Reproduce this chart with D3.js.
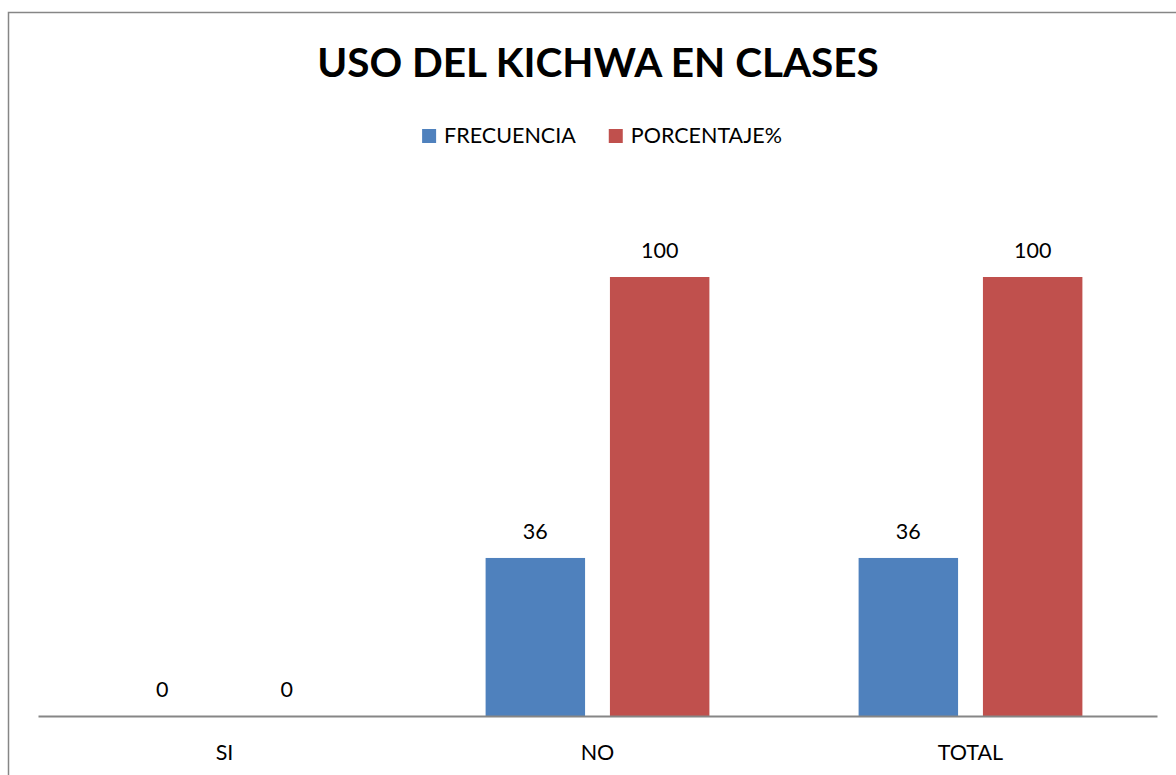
<html>
<head>
<meta charset="utf-8">
<script src="https://d3js.org/d3.v7.min.js"></script>
<style>
body { margin: 0; background: #fff; }
text { font-family: Lato, "Open Sans", sans-serif; fill: #000; }
</style>
</head>
<body>
<div id="chart"></div>
<script>
// chart data
var categories = ["SI", "NO", "TOTAL"];
var seriesNames = ["FRECUENCIA", "PORCENTAJE%"];
var frecuencia = [0, 36, 36];
var porcentaje = [0, 100, 100];
var colors = ["#4F81BD", "#C0504D"];
var title = "USO DEL KICHWA EN CLASES";

var W = 1176, H = 775;
var svg = d3.select("#chart").append("svg")
	.attr("width", W)
	.attr("height", H);

// outer frame (runs off the right and bottom edge)
svg.append("rect")
	.attr("x", 8.5).attr("y", 12.5)
	.attr("width", 1200).attr("height", 800)
	.style("fill", "#fff")
	.style("stroke", "#868686")
	.style("stroke-width", 1.5);

var base = 716;
var x0 = d3.scaleBand().domain(categories).range([38, 1157]);
var bw = x0.bandwidth();
var x1 = d3.scaleBand().domain(seriesNames).range([bw * 0.2, bw * 0.8]).paddingInner(0.2);
var y = d3.scaleLinear().domain([0, 100]).range([base, 277]);

var rows = categories.map(function(c, i) {
	return { cat: c, vals: [frecuencia[i], porcentaje[i]] };
});

var groups = svg.selectAll(".grp")
	.data(rows)
	.enter().append("g")
	.attr("class", "grp")
	.attr("transform", function(d) { return "translate(" + x0(d.cat) + ",0)"; });

var cells = function(d) {
	return d.vals.map(function(v, j) { return { name: seriesNames[j], v: v, j: j }; });
};

groups.selectAll("rect")
	.data(cells)
	.enter().append("rect")
	.attr("x", function(d) { return x1(d.name); })
	.attr("y", function(d) { return y(d.v); })
	.attr("width", x1.bandwidth())
	.attr("height", function(d) { return base - y(d.v); })
	.style("fill", function(d) { return colors[d.j]; });

groups.selectAll(".lbl")
	.data(cells)
	.enter().append("text")
	.attr("class", "lbl")
	.attr("x", function(d) { return x1(d.name) + x1.bandwidth() / 2; })
	.attr("y", function(d) { return y(d.v) - 19; })
	.attr("text-anchor", "middle")
	.style("font-size", "21.5px")
	.text(function(d) { return d.v; });

// category axis
var xAxis = svg.append("g")
	.attr("transform", "translate(0," + base + ")")
	.call(d3.axisBottom(x0).tickSize(0).tickPadding(0));
xAxis.select(".domain").attr("stroke", "#868686").attr("stroke-width", 2);
xAxis.selectAll(".tick text")
	.attr("dy", null)
	.attr("y", 44)
	.style("font-family", "Lato, sans-serif")
	.style("font-size", "21.5px")
	.style("fill", "#000");

// title
svg.append("text")
	.attr("x", 598)
	.attr("y", 77)
	.attr("text-anchor", "middle")
	.style("font-size", "40.5px")
	.style("font-weight", "bold")
	.text(title);

// legend
var leg = svg.append("g");
var lx = 0;
seriesNames.forEach(function(n, i) {
	leg.append("rect")
		.attr("x", lx).attr("y", 129)
		.attr("width", 14).attr("height", 14)
		.style("fill", colors[i]);
	var t = leg.append("text")
		.attr("x", lx + 22)
		.attr("y", 143)
		.style("font-size", "21.5px")
		.text(n);
	lx += 22 + t.node().getComputedTextLength() + 33;
});
var lw = lx - 33;
leg.attr("transform", "translate(" + (602 - lw / 2) + ",0)");
</script>
</body>
</html>
